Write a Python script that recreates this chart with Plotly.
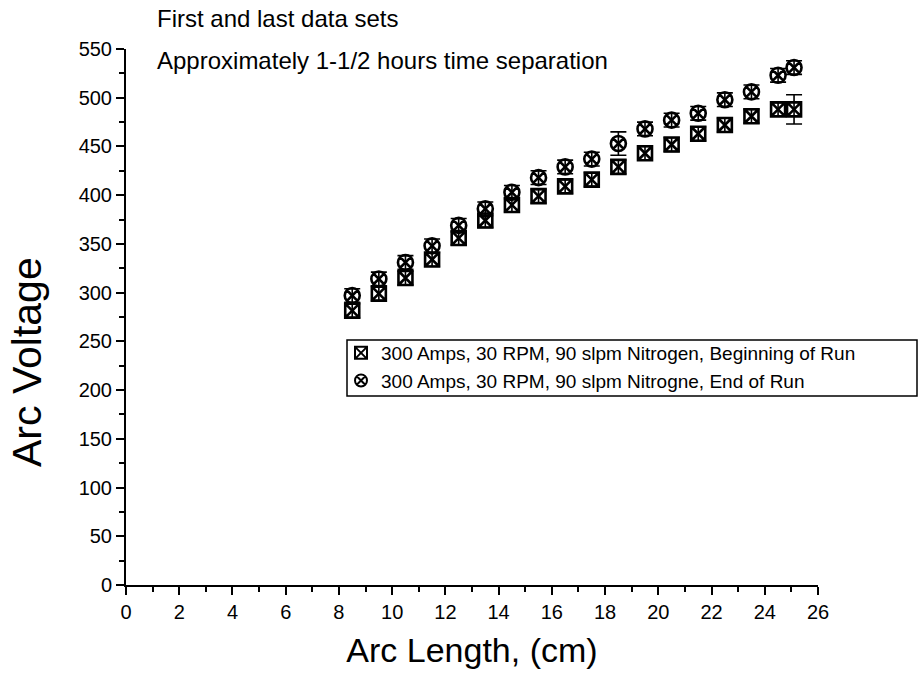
import plotly.graph_objects as go

arc_length = [8.5, 9.5, 10.5, 11.5, 12.5, 13.5, 14.5, 15.5, 16.5, 17.5,
              18.5, 19.5, 20.5, 21.5, 22.5, 23.5, 24.5, 25.1]
v_begin = [281.5, 299, 315, 334, 356, 374, 390, 399, 409, 416,
           429, 443, 452, 463, 472, 481, 488, 488]
err_begin = [7, 7, 7, 7, 7, 7, 7, 7, 7, 7, 7, 7, 7, 7, 7, 7, 7, 15]
v_end = [297, 314, 331, 348, 369, 386, 403, 418, 429, 437,
         453, 468, 477, 484, 498, 506, 523, 531]
err_end = [7, 7, 7, 7, 7, 7, 7, 7, 7, 7, 12, 7, 7, 7, 7, 7, 7, 7]

name_begin = "300 Amps, 30 RPM, 90 slpm Nitrogen, Beginning of Run"
name_end = "300 Amps, 30 RPM, 90 slpm Nitrogne, End of Run"

FONT = "Liberation Sans, Arial, sans-serif"

fig = go.Figure()
fig.add_trace(go.Scatter(
    x=arc_length, y=v_begin, mode="markers", name=name_begin,
    marker=dict(symbol="square-x-open", size=14, color="black",
                line=dict(width=2.6, color="black")),
    error_y=dict(type="data", array=err_begin, color="black",
                 thickness=1.6, width=8),
))
fig.add_trace(go.Scatter(
    x=arc_length, y=v_end, mode="markers", name=name_end,
    marker=dict(symbol="circle-x-open", size=15, color="black",
                line=dict(width=2.6, color="black")),
    error_y=dict(type="data", array=err_end, color="black",
                 thickness=1.6, width=8),
))

L, R, T, B = 126, 100, 49, 94
W, H = 918, 679
pw, ph = W - L - R, H - T - B

def px_x(p):
    return (p - L) / pw

def px_y(p):
    return (H - B - p) / ph

fig.update_layout(
    width=W, height=H,
    margin=dict(l=L, r=R, t=T, b=B),
    paper_bgcolor="white", plot_bgcolor="white",
    font=dict(family=FONT, color="black"),
    showlegend=True,
    legend=dict(x=px_x(341), y=px_y(334), xanchor="left", yanchor="top",
                bgcolor="rgba(0,0,0,0)", borderwidth=0,
                font=dict(size=19, family=FONT), tracegroupgap=0,
                itemsizing="constant"),
    xaxis=dict(
        range=[0, 26], tickmode="linear", tick0=0, dtick=2,
        showgrid=False, zeroline=False, showline=True, linecolor="black",
        linewidth=2, ticks="outside", ticklen=8, tickwidth=2, tickcolor="black",
        tickfont=dict(size=20, family=FONT),
        minor=dict(dtick=1, ticks="outside", ticklen=5, tickwidth=2,
                   tickcolor="black", showgrid=False),
        title=dict(text="Arc Length, (cm)", font=dict(size=34, family=FONT),
                   standoff=16),
    ),
    yaxis=dict(
        range=[0, 550], tickmode="linear", tick0=0, dtick=50,
        showgrid=False, zeroline=False, showline=True, linecolor="black",
        linewidth=2, ticks="outside", ticklen=8, tickwidth=2, tickcolor="black",
        tickfont=dict(size=20, family=FONT),
        minor=dict(dtick=25, ticks="outside", ticklen=5, tickwidth=2,
                   tickcolor="black", showgrid=False),
    ),
    shapes=[dict(type="rect", xref="paper", yref="paper",
                 x0=px_x(347), x1=px_x(917), y0=px_y(396), y1=px_y(340),
                 line=dict(color="black", width=1.5), fillcolor="rgba(0,0,0,0)")],
    annotations=[
        dict(text="Arc Voltage", xref="paper", yref="paper",
             x=px_x(27), y=px_y(362), xanchor="center", yanchor="middle",
             textangle=-90, showarrow=False, font=dict(size=41, family=FONT)),
        dict(text="First and last data sets", xref="paper", yref="paper",
             x=px_x(155), y=px_y(18), xanchor="left", yanchor="middle",
             showarrow=False, font=dict(size=24, family=FONT)),
        dict(text="Approximately 1-1/2 hours time separation", xref="paper",
             yref="paper", x=px_x(155), y=px_y(61), xanchor="left",
             yanchor="middle", showarrow=False, font=dict(size=24, family=FONT)),
    ],
)

fig.write_html("out.html")
